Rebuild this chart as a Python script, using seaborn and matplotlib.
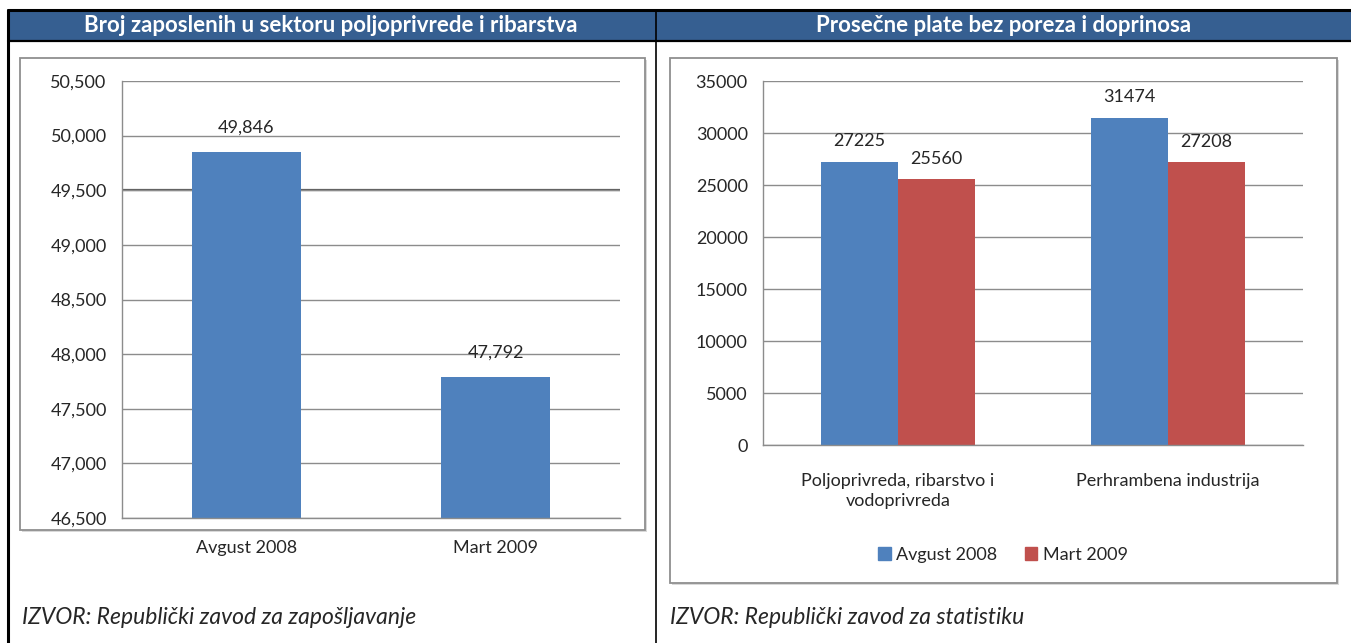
import matplotlib
matplotlib.use("Agg")
import matplotlib.pyplot as plt
import seaborn as sns
import pandas as pd
from matplotlib.patches import Rectangle
from matplotlib.lines import Line2D
from matplotlib.ticker import FuncFormatter, MultipleLocator

# data
periods = ["Avgust 2008", "Mart 2009"]
employed = [49846, 47792]

sectors = ["Poljoprivreda, ribarstvo i\nvodoprivreda", "Perhrambena industrija"]
wages_aug = [27225, 31474]
wages_mar = [25560, 27208]

title_left = "Broj zaposlenih u sektoru poljoprivrede i ribarstva"
title_right = "Prosečne plate bez poreza i doprinosa"
source_left = "IZVOR: Republički zavod za zapošljavanje"
source_right = "IZVOR: Republički zavod za statistiku"

BLUE = "#4F81BD"
RED = "#C0504D"
HEADER = "#365F91"
GRID = "#8C8C8C"
FS = 13

sns.set_style("white")
plt.rcParams["font.family"] = ["Lato", "DejaVu Sans"]

W, H = 1351, 643
fig = plt.figure(figsize=(W / 100, H / 100), dpi=100)


def px(x, y):
    return x / W, 1 - y / H


def box(x0, y0, x1, y1, **kw):
    fx, fy = px(x0, y1)
    r = Rectangle((fx, fy), (x1 - x0) / W, (y1 - y0) / H, transform=fig.transFigure, **kw)
    fig.patches.append(r)


def hline(x0, x1, y, lw=2, color="black"):
    a, b = px(x0, y)
    c, _ = px(x1, y)
    fig.add_artist(Line2D([a, c], [b, b], color=color, lw=lw, transform=fig.transFigure))


def vline(x, y0, y1, lw=2, color="black"):
    a, b = px(x, y0)
    _, d = px(x, y1)
    fig.add_artist(Line2D([a, a], [b, d], color=color, lw=lw, transform=fig.transFigure))


# table frame + headers
box(8, 10, 1351, 40, facecolor=HEADER, edgecolor="none")
hline(8, 1351, 10, lw=2.2)
hline(8, 1351, 40.5, lw=1.6)
vline(8, 10, 643, lw=2.2)
vline(656, 10, 643, lw=1.2)
fig.text(*px(331, 26), title_left, color="white", fontsize=16, fontweight="bold", ha="center", va="center")
fig.text(*px(1004, 26), title_right, color="white", fontsize=16, fontweight="bold", ha="center", va="center")

# chart frames with a faint shadow
box(22, 60, 647, 532, facecolor="#D9D9D9", edgecolor="none", zorder=0)
box(20, 58, 645, 530, facecolor="white", edgecolor="#8F8F8F", lw=1.3, zorder=0.5)
box(672, 60, 1339, 585, facecolor="#D9D9D9", edgecolor="none", zorder=0)
box(670, 58, 1337, 583, facecolor="white", edgecolor="#8F8F8F", lw=1.3, zorder=0.5)

fig.text(*px(22, 617), source_left, fontsize=16.5, style="italic", va="center")
fig.text(*px(670, 617), source_right, fontsize=16.5, style="italic", va="center")


def style_axes(ax):
    ax.set_facecolor("none")
    for s in ["top", "right"]:
        ax.spines[s].set_visible(False)
    for s in ["left", "bottom"]:
        ax.spines[s].set_color(GRID)
        ax.spines[s].set_linewidth(1)
    ax.yaxis.grid(True, color=GRID, lw=1)
    ax.set_axisbelow(True)
    ax.tick_params(axis="y", which="major", length=5, color=GRID, width=1, labelsize=FS, pad=6)
    ax.tick_params(axis="x", which="major", length=0, labelsize=FS, pad=16)
    ax.set_xticks([-0.5, 0.5, 1.5], minor=True)
    ax.tick_params(axis="x", which="minor", length=5, color=GRID, width=1)
    ax.set_xlim(-0.5, 1.5)
    ax.set_xlabel("")
    ax.set_ylabel("")


# left chart
ax1 = fig.add_axes([122 / W, 1 - 518 / H, 498 / W, 437 / H])
ax1.set_zorder(2)
sns.barplot(x=periods, y=employed, color=BLUE, width=0.44, saturation=1, linewidth=0, ax=ax1)
ax1.set_ylim(46500, 50500)
ax1.yaxis.set_major_locator(MultipleLocator(500))
ax1.yaxis.set_major_formatter(FuncFormatter(lambda v, p: f"{v:,.0f}"))
style_axes(ax1)
ax1.axhline(49500, color="#5A5A5A", lw=1.6, zorder=0.5)
for i, v in enumerate(employed):
    ax1.annotate(f"{v:,}", (i, v), xytext=(0, 12), textcoords="offset points",
                 ha="center", va="bottom", fontsize=FS)

# right chart
df = pd.DataFrame({
    "sektor": sectors * 2,
    "plata": wages_aug + wages_mar,
    "period": [periods[0]] * 2 + [periods[1]] * 2,
})
ax2 = fig.add_axes([763 / W, 1 - 445 / H, 540 / W, 364 / H])
ax2.set_zorder(2)
sns.barplot(data=df, x="sektor", y="plata", hue="period", palette=[BLUE, RED],
            width=0.57, saturation=1, linewidth=0, ax=ax2)
ax2.set_ylim(0, 35000)
ax2.yaxis.set_major_locator(MultipleLocator(5000))
style_axes(ax2)
ax2.tick_params(axis="x", which="major", pad=20)
for t in ax2.get_xticklabels():
    t.set_linespacing(1.3)
ax2.get_legend().remove()
for cont in ax2.containers:
    ax2.bar_label(cont, fmt="%d", padding=9, fontsize=FS)

handles = [Rectangle((0, 0), 1, 1, color=BLUE), Rectangle((0, 0), 1, 1, color=RED)]
fig.legend(handles, periods, loc="center", bbox_to_anchor=px(1003, 555), ncol=2, frameon=False,
           fontsize=FS, handlelength=0.7, handleheight=0.7, handletextpad=0.3, columnspacing=1.5)

fig.savefig("out.png", dpi=100)
